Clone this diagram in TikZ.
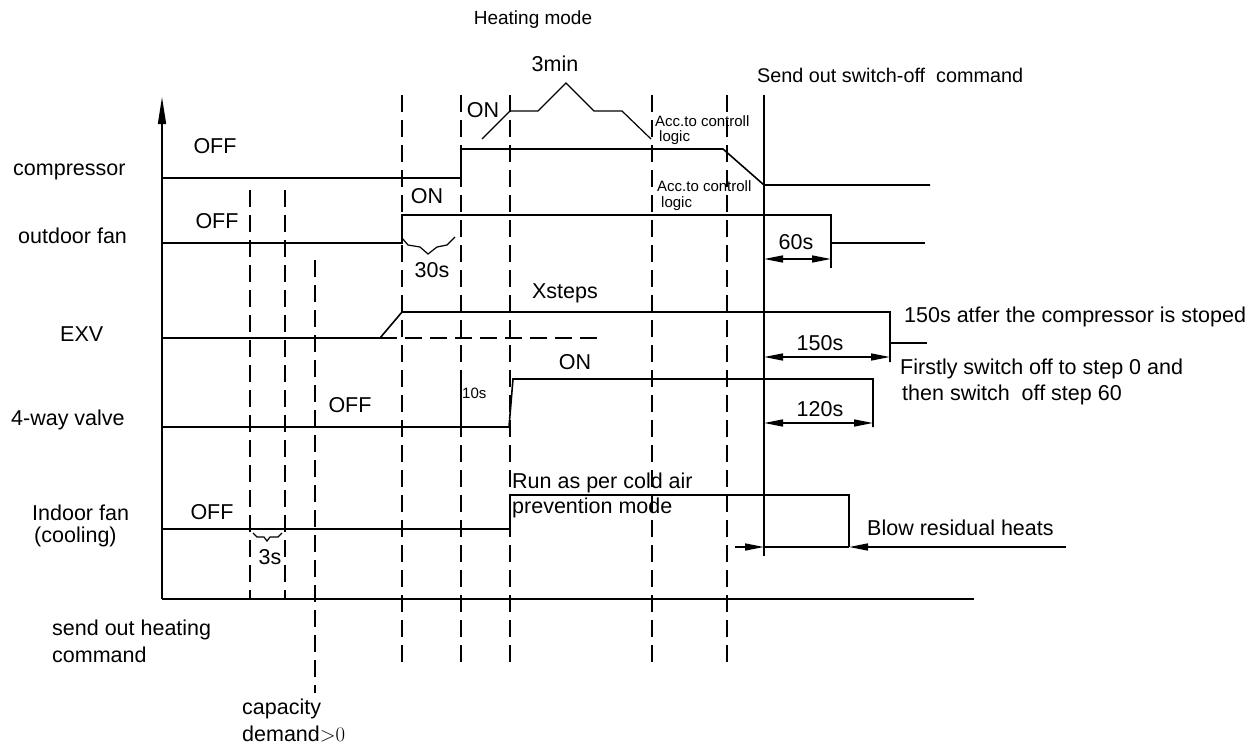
\documentclass[tikz,border=0pt]{standalone}
\usepackage{fontspec}
\setmainfont{Liberation Sans}
\usetikzlibrary{arrows.meta}
\begin{document}
\begin{tikzpicture}[x=1pt,y=-1pt,
  sig/.style={line width=1.6pt, line join=miter},
  thin/.style={line width=1.2pt},
  dashv/.style={line width=1.7pt, dash pattern=on 17pt off 8pt},
  dim/.style={line width=1.6pt, {Triangle[length=19pt,width=7pt]}-{Triangle[length=19pt,width=7pt]}},
  tip/.style={line width=1.6pt, -{Triangle[length=19pt,width=7pt]}},
  lbl/.style={font=\fontsize{21.5}{25}\selectfont, inner sep=0pt},
  sml/.style={font=\fontsize{15}{17}\selectfont, inner sep=0pt}]
\useasboundingbox (0,0) rectangle (1252,745);

% axes
\coordinate (o) at (162,599);
\coordinate (ytop) at (162,97);
\coordinate (xend) at (974,599);
\draw[line width=1.6pt, -{Triangle[length=27pt,width=8pt]}] (o) -- (ytop);
\draw[line width=1.6pt] (o) -- (xend);

% dashed time markers
\draw[dashv] (250,190) -- (250,599);
\draw[dashv] (285,190) -- (285,599);
\draw[dashv] (315,260) -- (315,693);
\foreach \xx in {402,461,510,652,727} \draw[dashv] (\xx,95) -- (\xx,666);
% switch-off command line
\draw[sig] (764,95) -- (764,556);

% compressor
\draw[sig] (162,178) -- (461,178) -- (461,149) -- (723,149) -- (764,185) -- (930,185);
% 3min ramp
\draw[thin] (482,139) -- (510,111) -- (538,111) -- (566,83) -- (594,111) -- (622,111) -- (651,139);

% outdoor fan
\draw[sig] (162,243) -- (402,243) -- (402,215) -- (831,215) -- (831,268);
\draw[sig] (831,243) -- (925,243);
\draw[dim] (764,259) -- (831,259);
\draw[thin] (402,238) -- (408,245) -- (420,247) -- (428,254) -- (437,247) -- (447,245) -- (455,237);

% EXV
\draw[dashv] (380,338) -- (604,338);
\draw[sig] (162,338) -- (380,338) -- (402,312) -- (890,312) -- (890,362);
\draw[sig] (890,343) -- (927,343);
\draw[dim] (764,357) -- (890,357);

% 4-way valve
\draw[sig] (162,427) -- (509,427) -- (513,379) -- (873,379) -- (873,427);
\draw[thin] (461,375) -- (461,427);
\draw[dim] (764,423) -- (873,423);

% indoor fan
\draw[sig] (162,529) -- (510,529) -- (510,495) -- (849,495) -- (849,547);
\draw[thin] (253,533) -- (257,537) -- (264,537) -- (267,541) -- (270,537) -- (278,537) -- (282,533);
\coordinate (bl) at (735,547);
\coordinate (bm) at (764,547);
\coordinate (br) at (849,547);
\coordinate (bre) at (1066,547);
\draw[tip] (bl) -- (bm);
\draw[sig] (bm) -- (br);
\draw[tip] (bre) -- (br);

% labels left
\node[lbl, anchor=west] (lcomp) at (13,172) {compressor};
\node[lbl, anchor=west] (lofan) at (18,236) {outdoor fan};
\node[lbl, anchor=west] (lexv) at (60,334) {EXV};
\node[lbl, anchor=west] (l4way) at (11,420) {4-way valve};
\node[lbl, anchor=west] (lifan) at (32,513) {Indoor fan};
\node[lbl, anchor=west] (lcool) at (34,537) {(cooling)};
\node[lbl, anchor=west] (lsend1) at (52,630) {send out heating};
\node[lbl, anchor=west] (lsend2) at (52,655) {command};
\node[lbl, anchor=west] (lcap1) at (242,709) {capacity};
\node[lbl, anchor=west] (lcap2) at (242,734) {demand$\mathord{>}0$};

% top labels
\node[lbl, font=\fontsize{19}{22}\selectfont] (thm) at (533,20) {Heating mode};
\node[lbl] (t3min) at (555,64) {3min};
\node[lbl, anchor=west, font=\fontsize{19.8}{23}\selectfont] (tsend) at (757,75) {Send out switch-off\ \ command};

% state labels
\node[lbl] (con) at (483,110) {ON};
\node[lbl] (coff) at (215,146) {OFF};
\node[sml, anchor=west] (acc1) at (655,121) {Acc.to controll};
\node[sml, anchor=west] (log1) at (659,138) {logic};
\node[sml, anchor=west] (acc2) at (657,186) {Acc.to controll};
\node[sml, anchor=west] (log2) at (661,204) {logic};
\node[lbl] (oon) at (427,196) {ON};
\node[lbl] (ooff) at (217,221) {OFF};
\node[lbl] (t30) at (432,270) {30s};
\node[lbl] (t60) at (796,242) {60s};
\node[lbl] (txs) at (565,293) {Xsteps};
\node[lbl] (t150) at (820,343) {150s};
\node[lbl, anchor=west] (tafter) at (904,317) {150s atfer the compressor is stoped};
\node[lbl, anchor=west] (tfirst) at (900,369) {Firstly switch off to step 0 and};
\node[lbl, anchor=west] (tthen) at (902,395) {then switch\ \ off step 60};
\node[lbl] (von) at (575,362) {ON};
\node[sml, anchor=west] (t10) at (462,393) {10s};
\node[lbl] (voff) at (350,405) {OFF};
\node[lbl] (t120) at (820,409) {120s};
\node[lbl, anchor=west] (trun1) at (512,483) {Run as per cold air};
\node[lbl, anchor=west] (trun2) at (512,508) {prevention mode};
\node[lbl] (ioff) at (212,512) {OFF};
\node[lbl] (t3s) at (270,557) {3s};
\node[lbl, anchor=west] (tblow) at (867,528) {Blow residual heats};
\end{tikzpicture}
\end{document}
